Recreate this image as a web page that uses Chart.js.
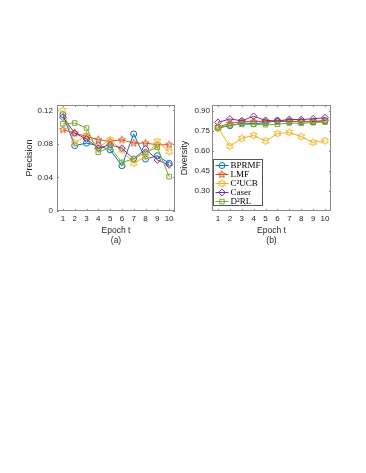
<!DOCTYPE html>
<html><head><meta charset="utf-8">
<script src="https://cdn.jsdelivr.net/npm/chart.js@4.4.0/dist/chart.umd.min.js"></script>
<style>
html,body{margin:0;padding:0;background:#fff;width:366px;height:473px;overflow:hidden;position:relative}
canvas{position:absolute}
#ca{left:0;top:95px}
#cb{left:176px;top:95px}
</style></head><body>
<canvas id="ca" width="180" height="160"></canvas>
<canvas id="cb" width="190" height="160"></canvas>
<script>
// ---- data ----
const epochs = [1, 2, 3, 4, 5, 6, 7, 8, 9, 10];
const seriesNames = ['BPRMF', 'LMF', 'C\u00B2UCB', 'Caser', 'D\u00B2RL'];

const precBPRMF = [0.115, 0.078, 0.081, 0.078, 0.073, 0.054, 0.092, 0.062, 0.066, 0.057];
const precLMF   = [0.097, 0.093, 0.089, 0.085, 0.083, 0.085, 0.081, 0.081, 0.079, 0.079];
const precC2UCB = [0.120, 0.081, 0.090, 0.076, 0.085, 0.073, 0.057, 0.065, 0.083, 0.071];
const precCaser = [0.112, 0.093, 0.086, 0.075, 0.079, 0.075, 0.062, 0.074, 0.061, 0.055];
const precD2RL  = [0.104, 0.105, 0.099, 0.070, 0.076, 0.058, 0.062, 0.070, 0.076, 0.041];

const divBPRMF = [0.772, 0.790, 0.810, 0.805, 0.812, 0.828, 0.822, 0.820, 0.820, 0.828];
const divLMF   = [0.780, 0.807, 0.820, 0.822, 0.822, 0.820, 0.822, 0.822, 0.822, 0.825];
const divC2UCB = [0.775, 0.637, 0.695, 0.717, 0.675, 0.730, 0.740, 0.707, 0.665, 0.677];
const divCaser = [0.815, 0.840, 0.827, 0.860, 0.830, 0.825, 0.837, 0.835, 0.842, 0.850];
const divD2RL  = [0.775, 0.795, 0.800, 0.800, 0.797, 0.800, 0.810, 0.807, 0.812, 0.817];

const precTicks = [0, 0.04, 0.08, 0.12];
const divTicks = [0.30, 0.45, 0.60, 0.75, 0.90];

// ---- styles ----
const colors = ['#0072BD', '#D95319', '#EDB120', '#7E2F8E', '#77AC30'];

function makeStar(n, ro, ri, color) {
  const s = 11, c = document.createElement('canvas');
  c.width = s; c.height = s;
  const g = c.getContext('2d');
  g.strokeStyle = color; g.lineWidth = 1; g.lineJoin = 'miter';
  g.beginPath();
  for (let i = 0; i < 2 * n; i++) {
    const r = i % 2 === 0 ? ro : ri;
    const a = -Math.PI / 2 + i * Math.PI / n;
    const x = s / 2 + r * Math.cos(a), y = s / 2 + r * Math.sin(a);
    if (i === 0) g.moveTo(x, y); else g.lineTo(x, y);
  }
  g.closePath(); g.stroke();
  return c;
}
const markers = [
  {style: 'circle', radius: 3},
  {style: makeStar(5, 3.8, 1.6, colors[1]), radius: 3.5},
  {style: makeStar(6, 3.8, 2.1, colors[2]), radius: 3.5},
  {style: 'rectRot', radius: 3.4},
  {style: 'rect', radius: 3.2}
];

function buildDatasets(arrs) {
  return arrs.map((a, i) => ({
    label: seriesNames[i],
    data: epochs.map((e, k) => ({x: e, y: a[k]})),
    borderColor: colors[i],
    backgroundColor: 'rgba(0,0,0,0)',
    borderWidth: 1,
    pointStyle: markers[i].style,
    pointRadius: markers[i].radius,
    pointBorderWidth: 1,
    pointBorderColor: colors[i],
    pointBackgroundColor: 'rgba(0,0,0,0)',
    tension: 0,
    order: arrs.length - i
  }));
}

const boxPlugin = {
  id: 'box',
  afterDraw(chart) {
    const {ctx, chartArea: a, scales} = chart;
    ctx.save();
    ctx.strokeStyle = '#8a8a8a';
    ctx.lineWidth = 1;
    ctx.strokeRect(Math.round(a.left) + 0.5, Math.round(a.top) + 0.5,
      Math.round(a.right - a.left) - 1, Math.round(a.bottom - a.top) - 1);
    ctx.beginPath();
    scales.x.ticks.forEach(t => {
      const x = Math.round(scales.x.getPixelForValue(t.value)) + 0.5;
      ctx.moveTo(x, a.bottom); ctx.lineTo(x, a.bottom - 2);
      ctx.moveTo(x, a.top); ctx.lineTo(x, a.top + 2);
    });
    scales.y.ticks.forEach(t => {
      const y = Math.round(scales.y.getPixelForValue(t.value)) + 0.5;
      ctx.moveTo(a.left, y); ctx.lineTo(a.left + 2, y);
      ctx.moveTo(a.right, y); ctx.lineTo(a.right - 2, y);
    });
    ctx.stroke();
    ctx.restore();
  }
};

const legendPlugin = {
  id: 'boxLegend',
  afterDraw(chart) {
    if (!chart.options.plugins.boxLegend || !chart.options.plugins.boxLegend.show) return;
    const {ctx, chartArea: a} = chart;
    const bx = Math.round(a.left) + 1.5, bw = 49, bh = 46;
    const by = Math.round(a.bottom) - 5.5 - bh;
    ctx.save();
    ctx.fillStyle = '#fff';
    ctx.fillRect(bx, by, bw, bh);
    ctx.strokeStyle = '#555';
    ctx.lineWidth = 1;
    ctx.strokeRect(bx, by, bw, bh);
    ctx.font = '9px "Liberation Serif"';
    ctx.textBaseline = 'middle';
    ctx.textAlign = 'left';
    chart.data.datasets.forEach((ds, i) => {
      const y = by + 6 + i * 9;
      ctx.strokeStyle = colors[i];
      ctx.lineWidth = 1;
      ctx.beginPath();
      ctx.moveTo(bx + 2, y); ctx.lineTo(bx + 15, y);
      ctx.stroke();
      ctx.fillStyle = 'rgba(0,0,0,0)';
      Chart.helpers.drawPoint(ctx, {pointStyle: markers[i].style, radius: markers[i].radius, borderWidth: 1}, bx + 8.5, y);
      ctx.fillStyle = '#000';
      ctx.fillText(seriesNames[i], bx + 17, y + 0.5);
    });
    ctx.restore();
  }
};

function makeChart(id, arrs, yMin, yMax, yTicks, yFmt, opts) {
  return new Chart(document.getElementById(id), {
    type: 'line',
    data: {datasets: buildDatasets(arrs)},
    plugins: [boxPlugin, legendPlugin],
    options: {
      responsive: false,
      animation: false,
      devicePixelRatio: 1,
      layout: {padding: {left: 0, top: 10, right: opts.padRight, bottom: 0}},
      plugins: {legend: {display: false}, tooltip: {enabled: false}, boxLegend: {show: opts.legend}},
      scales: {
        x: {
          type: 'linear', min: 0.5, max: 10.5,
          afterBuildTicks: s => { s.ticks = epochs.map(v => ({value: v})); },
          afterFit: s => { s.height = 44; },
          grid: {display: false, drawTicks: false},
          border: {display: false},
          ticks: {padding: 3, color: '#262626', font: {family: 'Liberation Sans', size: 8}, maxRotation: 0,
                  callback: v => String(v)},
          title: {display: true, text: ['Epoch t', opts.caption], color: '#262626',
                  font: {family: 'Liberation Sans', size: 8.5, lineHeight: '10px'},
                  padding: {top: 0, bottom: 9}}
        },
        y: {
          type: 'linear', min: yMin, max: yMax,
          afterBuildTicks: s => { s.ticks = yTicks.map(v => ({value: v})); },
          afterFit: s => { s.width = opts.yWidth; },
          grid: {display: false, drawTicks: false},
          border: {display: false},
          ticks: {padding: opts.yPad, color: '#262626', font: {family: 'Liberation Sans', size: 8},
                  callback: yFmt},
          title: {display: true, text: opts.yTitle, color: '#262626',
                  font: {family: 'Liberation Sans', size: 9, lineHeight: '10px'},
                  padding: {top: opts.yTitlePad, bottom: 0}}
        }
      }
    }
  });
}

makeChart('ca', [precBPRMF, precLMF, precC2UCB, precCaser, precD2RL], 0, 0.1265, precTicks,
  v => v === 0 ? '0' : v.toFixed(2),
  {padRight: 3, yWidth: 57, yPad: 4, yTitle: 'Precision', yTitlePad: 25, caption: '(a)', legend: false});

makeChart('cb', [divBPRMF, divLMF, divC2UCB, divCaser, divD2RL], 0.15, 0.945, divTicks,
  v => v.toFixed(2),
  {padRight: 35, yWidth: 36, yPad: 2, yTitle: 'Diversity', yTitlePad: 4, caption: '(b)', legend: true});
</script>
</body></html>
